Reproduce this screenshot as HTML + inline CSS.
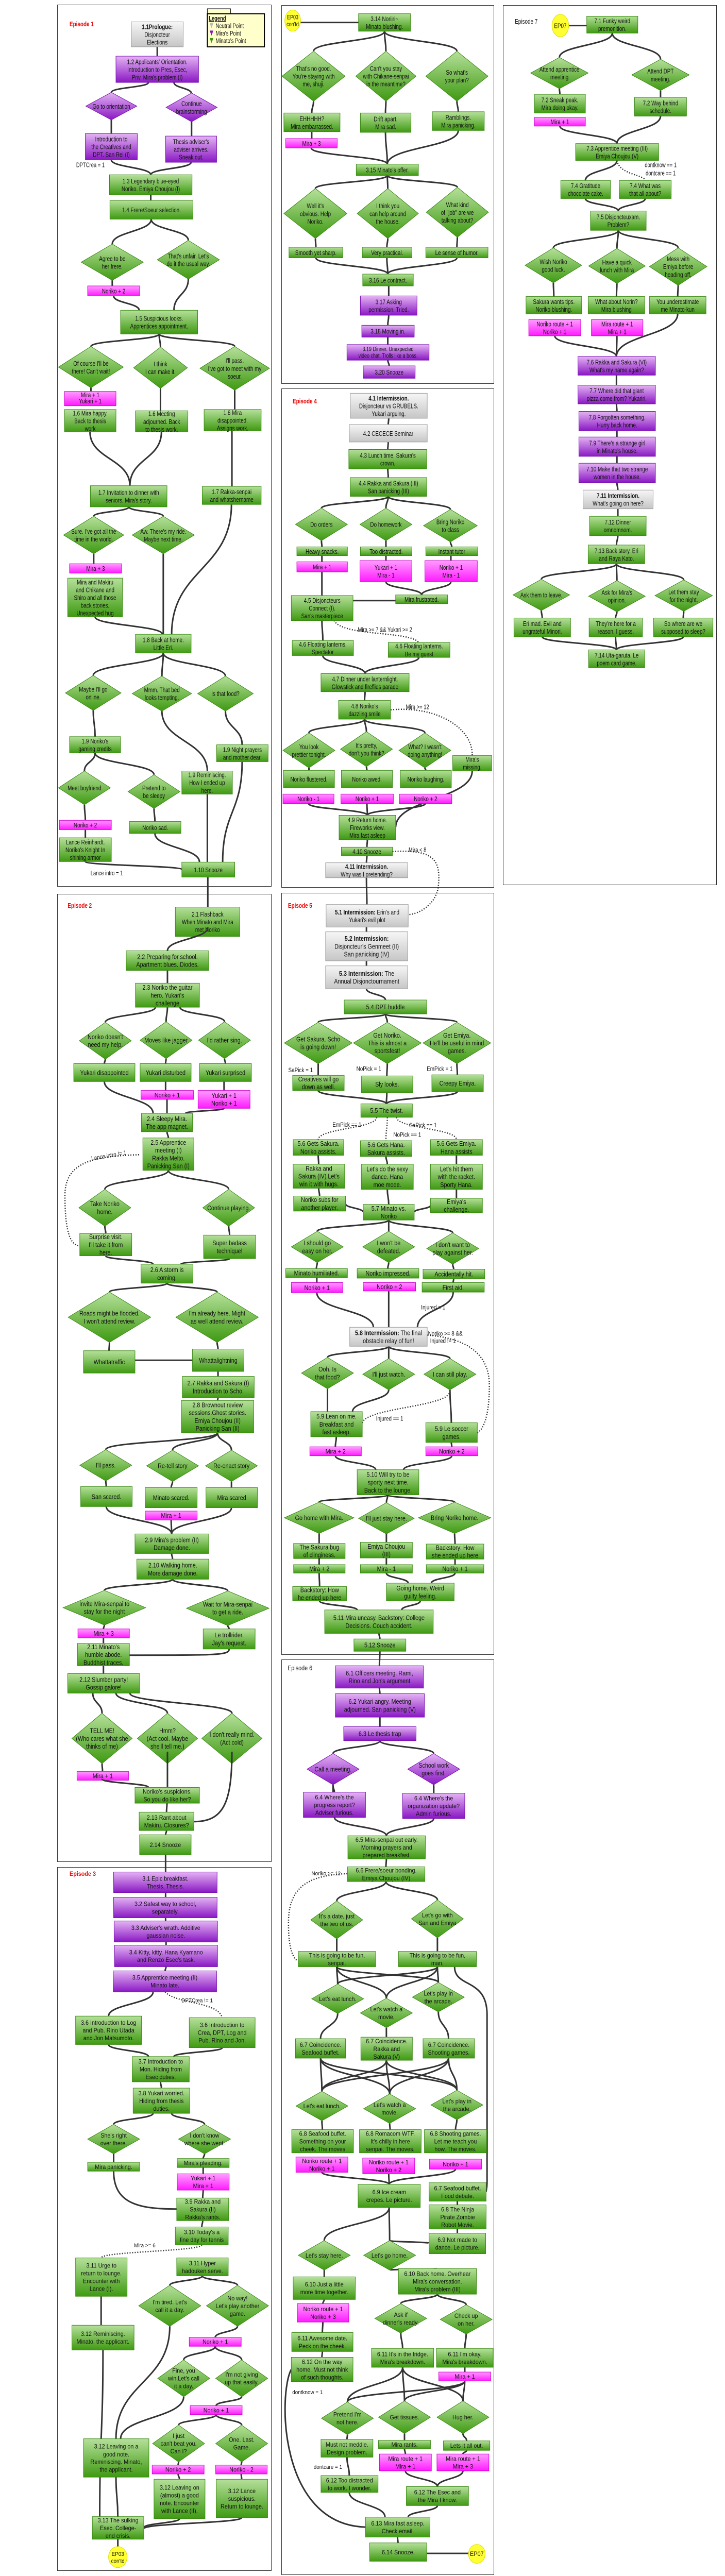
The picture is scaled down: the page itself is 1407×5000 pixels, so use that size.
<!DOCTYPE html>
<html><head><meta charset="utf-8">
<style>
html,body{margin:0;padding:0;background:#fff;}
body{width:1407px;height:5000px;position:relative;overflow:hidden;}
.pn{position:absolute;border:1px solid #333;box-sizing:border-box;}
svg.l{position:absolute;left:0;width:1407px;}
svg text{font-family:"Liberation Sans",Arial,sans-serif;text-anchor:middle;fill:#111;}
#s1 text{font-size:11px;} #s2 text,#s3 text{font-size:12px;}
text.ep{fill:#e00;font-weight:bold;text-anchor:start;}
text.lb{text-anchor:start;font-size:10.5px !important;}
.g{fill:url(#gG);stroke:#3a8a12;}
.p{fill:url(#gP);stroke:#7a10b0;}
.n{fill:url(#gN);stroke:#999;}
.k{fill:url(#gK);stroke:#d000d0;}
rect,polygon,circle{vector-effect:non-scaling-stroke;stroke-width:1;}
.cn path{fill:none;stroke:#333;stroke-width:3;vector-effect:non-scaling-stroke;}
.cn path.d{stroke-dasharray:2 3;stroke-width:2.5;}
.y{fill:#ffff33;stroke:#dd0;}
</style></head><body>
<svg width="0" height="0" style="position:absolute">
<defs>
<linearGradient id="gG" x1="0" y1="0" x2="0" y2="1"><stop offset="0" stop-color="#b5e09a"/><stop offset="1" stop-color="#3f9a12"/></linearGradient>
<linearGradient id="gP" x1="0" y1="0" x2="0" y2="1"><stop offset="0" stop-color="#e3b3f3"/><stop offset="1" stop-color="#8a18c4"/></linearGradient>
<linearGradient id="gN" x1="0" y1="0" x2="0" y2="1"><stop offset="0" stop-color="#f6f6f6"/><stop offset="1" stop-color="#c6c6c6"/></linearGradient>
<linearGradient id="gK" x1="0" y1="0" x2="0" y2="1"><stop offset="0" stop-color="#ff9cff"/><stop offset="1" stop-color="#ff1aff"/></linearGradient>
<polygon id="dia" points="0,-1 1,0 0,1 -1,0" vector-effect="non-scaling-stroke"/>
</defs></svg>

<div class="pn" style="left:111px;top:9px;width:416px;height:1712px"></div>
<div class="pn" style="left:546px;top:10px;width:413px;height:735px"></div>
<div class="pn" style="left:976px;top:10px;width:415px;height:1708px"></div>
<div class="pn" style="left:546px;top:754px;width:413px;height:969px"></div>
<div class="pn" style="left:111px;top:1735px;width:416px;height:1879px"></div>
<div class="pn" style="left:546px;top:1733px;width:413px;height:1479px"></div>
<div class="pn" style="left:111px;top:3624px;width:416px;height:1366px"></div>
<div class="pn" style="left:546px;top:3221px;width:413px;height:1777px"></div>

<!-- ============ SVG 1 ============ -->
<svg id="s1" class="l" style="top:0;height:1900px" viewBox="0 0 1563 1568" preserveAspectRatio="none">
<g class="cn" id="c1"></g>
<text class="ep" x="150" y="42">Episode 1</text>
<rect x="447" y="14" width="50" height="8" fill="#ffffcc" stroke="#000"/>
<rect x="447" y="22" width="123" height="53" fill="#ffffcc" stroke="#000" style="stroke-width:2"/>
<text class="lb" x="450" y="33" text-decoration="underline" font-weight="bold">Legend</text>
<polygon points="452,37 460,37 456,45" fill="#bbb"/><text class="lb" x="465" y="45">Neutral Point</text>
<polygon points="452,49 460,49 456,57" fill="#8a18c4"/><text class="lb" x="465" y="57">Mira's Point</text>
<polygon points="452,61 460,61 456,69" fill="#3f9a12"/><text class="lb" x="465" y="69">Minato's Point</text>

<rect class="n" x="283" y="35" width="112" height="40"/><text x="339" y="46.6"><tspan font-weight="bold">1.1Prologue:</tspan><tspan x="339" dy="12.4">Disjoncteur</tspan><tspan x="339" dy="12.4">Elections</tspan></text>
<rect class="p" x="250" y="90" width="178" height="42"/><text x="339" y="102.6">1.2 Applicants' Orientation.<tspan x="339" dy="12.4">Introduction to Pres, Esec,</tspan><tspan x="339" dy="12.4">Priv. Mira's problem (I)</tspan></text>
<use href="#dia" class="p" transform="translate(240,170) scale(55,22)"/><text x="240" y="174">Go to orientation</text>
<use href="#dia" class="p" transform="translate(413,172) scale(55,23)"/><text x="413" y="169.8">Continue<tspan x="413" dy="12.4">brainstorming</tspan></text>
<rect class="p" x="184" y="214" width="112" height="42"/><text x="240" y="226.6">Introduction to<tspan x="240" dy="12.4">the Creatives and</tspan><tspan x="240" dy="12.4">DPT. San Rei (I)</tspan></text>
<rect class="p" x="357" y="218" width="110" height="42"/><text x="412" y="230.6">Thesis adviser's<tspan x="412" dy="12.4">adviser arrives.</tspan><tspan x="412" dy="12.4">Sneak out.</tspan></text>
<text x="195" y="268" style="font-size:10.5px">DPTCrea = 1</text>
<rect class="g" x="236" y="280" width="178" height="32"/><text x="325" y="293.8">1.3 Legendary blue-eyed<tspan x="325" dy="12.4">Noriko. Emiya Choujou (I)</tspan></text>
<rect class="g" x="237" y="321" width="179" height="30"/><text x="326.5" y="340">1.4 Frere/Soeur selection.</text>
<use href="#dia" class="g" transform="translate(242,420) scale(67,29)"/><text x="242" y="417.8">Agree to be<tspan x="242" dy="12.4">her frere.</tspan></text>
<use href="#dia" class="g" transform="translate(406,416) scale(67,31)"/><text x="406" y="413.8">That's unfair. Let's<tspan x="406" dy="12.4">do it the usual way.</tspan></text>
<rect class="k" x="189" y="458" width="112" height="16"/><text x="245" y="470">Noriko + 2</text>
<rect class="g" x="260" y="497" width="166" height="38"/><text x="343" y="513.8">1.5 Suspicious looks.<tspan x="343" dy="12.4">Apprentices appointment.</tspan></text>
<use href="#dia" class="g" transform="translate(196,588) scale(70,33)"/><text x="196" y="585.8">Of course I'll be<tspan x="196" dy="12.4">there! Can't wait!</tspan></text>
<use href="#dia" class="g" transform="translate(346,589) scale(58,33)"/><text x="346" y="586.8">I think<tspan x="346" dy="12.4">I can make it.</tspan></text>
<use href="#dia" class="g" transform="translate(506,590) scale(75,35)"/><text x="506" y="581.6">I'll pass.<tspan x="506" dy="12.4">I've got to meet with my</tspan><tspan x="506" dy="12.4">soeur.</tspan></text>
<rect class="k" x="139" y="627" width="111" height="23"/><text x="194.5" y="636.3">Mira + 1<tspan x="194.5" dy="10">Yukari + 1</tspan></text>
<rect class="g" x="139" y="656" width="111" height="36"/><text x="194.5" y="665.6">1.6 Mira happy.<tspan x="194.5" dy="12.4">Back to thesis</tspan><tspan x="194.5" dy="12.4">work</tspan></text>
<rect class="g" x="292" y="658" width="113" height="34"/><text x="348.5" y="666.6">1.6 Meeting<tspan x="348.5" dy="12.4">adjourned. Back</tspan><tspan x="348.5" dy="12.4">to thesis work.</tspan></text>
<rect class="g" x="440" y="656" width="123" height="34"/><text x="501.5" y="664.6">1.6 Mira<tspan x="501.5" dy="12.4">disappointed.</tspan><tspan x="501.5" dy="12.4">Assigns work.</tspan></text>
<rect class="g" x="195" y="778" width="165" height="34"/><text x="277.5" y="792.8">1.7 Invitation to dinner with<tspan x="277.5" dy="12.4">seniors. Mira's story.</tspan></text>
<rect class="g" x="436" y="779" width="127" height="29"/><text x="499.5" y="791.3">1.7 Rakka-senpai<tspan x="499.5" dy="12.4">and whatshername</tspan></text>
<use href="#dia" class="g" transform="translate(202,857) scale(65,30)"/><text x="202" y="854.8">Sure. I've got all the<tspan x="202" dy="12.4">time in the world.</tspan></text>
<use href="#dia" class="g" transform="translate(352,857) scale(67,30)"/><text x="352" y="854.8">Aw. There's my ride.<tspan x="352" dy="12.4">Maybe next time.</tspan></text>
<rect class="k" x="150" y="903" width="112" height="15"/><text x="206" y="914.5">Mira + 3</text>
<rect class="g" x="146" y="926" width="118" height="62"/><text x="205" y="936.2">Mira and Makiru<tspan x="205" dy="12.4">and Chikane and</tspan><tspan x="205" dy="12.4">Shiro and all those</tspan><tspan x="205" dy="12.4">back stories.</tspan><tspan x="205" dy="12.4">Unexpected hug</tspan></text>
<rect class="g" x="292" y="1016" width="120" height="30"/><text x="352" y="1028.8">1.8 Back at home.<tspan x="352" dy="12.4">Little Eri.</tspan></text>
<use href="#dia" class="g" transform="translate(201,1110) scale(60,28)"/><text x="201" y="1107.8">Maybe I'll go<tspan x="201" dy="12.4">online.</tspan></text>
<use href="#dia" class="g" transform="translate(349,1111) scale(64,28)"/><text x="349" y="1108.8">Mmm. That bed<tspan x="349" dy="12.4">looks tempting.</tspan></text>
<use href="#dia" class="g" transform="translate(486,1111) scale(60,28)"/><text x="486" y="1115">Is that food?</text>
<rect class="g" x="150" y="1180" width="110" height="26"/><text x="205" y="1190.8">1.9 Noriko's<tspan x="205" dy="12.4">gaming credits</tspan></text>
<rect class="g" x="467" y="1193" width="111" height="27"/><text x="522.5" y="1204.3">1.9 Night prayers<tspan x="522.5" dy="12.4">and mother dear.</tspan></text>
<rect class="g" x="392" y="1235" width="109" height="37"/><text x="446.5" y="1245.1">1.9 Reminiscing.<tspan x="446.5" dy="12.4">How I ended up</tspan><tspan x="446.5" dy="12.4">here.</tspan></text>
<use href="#dia" class="g" transform="translate(182,1262) scale(56,27)"/><text x="182" y="1266">Meet boyfriend</text>
<use href="#dia" class="g" transform="translate(332,1268) scale(56,27)"/><text x="332" y="1265.8">Pretend to<tspan x="332" dy="12.4">be sleepy</tspan></text>
<rect class="k" x="128" y="1314" width="112" height="15"/><text x="184" y="1325.5">Noriko + 2</text>
<rect class="g" x="279" y="1316" width="111" height="19"/><text x="334.5" y="1329.5">Noriko sad.</text>
<rect class="g" x="128" y="1342" width="112" height="38"/><text x="184" y="1352.6">Lance Reinhardt.<tspan x="184" dy="12.4">Noriko's Knight In</tspan><tspan x="184" dy="12.4">shining armor</tspan></text>
<rect class="g" x="392" y="1381" width="114" height="24"/><text x="449" y="1397">1.10 Snooze</text>
<text x="230" y="1402" style="font-size:10.5px">Lance intro = 1</text>

<!-- EP03 cont'd -->
<circle class="y" cx="631" cy="33" r="17"/><text x="631" y="31" style="font-size:10px">EP03<tspan x="631" dy="11">con'td</tspan></text>
<rect class="g" x="773" y="22" width="112" height="28"/><text x="829" y="33.8">3.14 Noriiri~<tspan x="829" dy="12.4">Minato blushing.</tspan></text>
<use href="#dia" class="g" transform="translate(676,122) scale(68,40)"/><text x="676" y="113.6">That's no good.<tspan x="676" dy="12.4">You're staying with</tspan><tspan x="676" dy="12.4">me, shuji.</tspan></text>
<use href="#dia" class="g" transform="translate(832,122) scale(65,40)"/><text x="832" y="113.6">Can't you stay<tspan x="832" dy="12.4">with Chikane-senpai</tspan><tspan x="832" dy="12.4">in the meantime?</tspan></text>
<use href="#dia" class="g" transform="translate(985,122) scale(67,40)"/><text x="985" y="119.8">So what's<tspan x="985" dy="12.4">your plan?</tspan></text>
<rect class="g" x="612" y="181" width="121" height="30"/><text x="672.5" y="193.8">EHHHHH?<tspan x="672.5" dy="12.4">Mira embarrassed.</tspan></text>
<rect class="g" x="777" y="181" width="109" height="31"/><text x="831.5" y="194.3">Drift apart.<tspan x="831.5" dy="12.4">Mira sad.</tspan></text>
<rect class="g" x="932" y="179" width="112" height="30"/><text x="988" y="191.8">Ramblings.<tspan x="988" dy="12.4">Mira panicking.</tspan></text>
<rect class="k" x="616" y="222" width="111" height="15"/><text x="671.5" y="233.5">Mira + 3</text>
<rect class="g" x="768" y="263" width="134" height="18"/><text x="835" y="276">3.15 Minato's offer.</text>
<use href="#dia" class="g" transform="translate(680,342) scale(68,40)"/><text x="680" y="333.6">Well it's<tspan x="680" dy="12.4">obvious. Help</tspan><tspan x="680" dy="12.4">Noriko.</tspan></text>
<use href="#dia" class="g" transform="translate(836,342) scale(66,40)"/><text x="836" y="333.6">I think you<tspan x="836" dy="12.4">can help around</tspan><tspan x="836" dy="12.4">the house.</tspan></text>
<use href="#dia" class="g" transform="translate(986,340) scale(67,40)"/><text x="986" y="331.6">What kind<tspan x="986" dy="12.4">of "job" are we</tspan><tspan x="986" dy="12.4">talking about?</tspan></text>
<rect class="g" x="623" y="396" width="116" height="17"/><text x="681" y="408.5">Smooth yet sharp.</text>
<rect class="g" x="781" y="396" width="107" height="17"/><text x="834.5" y="408.5">Very practical.</text>
<rect class="g" x="918" y="396" width="134" height="17"/><text x="985" y="408.5">Le sense of humor.</text>
<rect class="g" x="782" y="439" width="109" height="19"/><text x="836.5" y="452.5">3.16 Le contract.</text>
<rect class="p" x="777" y="474" width="122" height="31"/><text x="838" y="487.3">3.17 Asking<tspan x="838" dy="12.4">permission. Tried.</tspan></text>
<rect class="p" x="780" y="521" width="113" height="19"/><text x="836.5" y="534.5">3.18 Moving in.</text>
<rect class="p" x="748" y="552" width="177" height="25"/><text x="836.5" y="562.3" style="font-size:10px">3.19 Dinner. Unexpected<tspan x="836.5" dy="11">video chat. Trolls like a boss.</tspan></text>
<rect class="p" x="783" y="586" width="112" height="20"/><text x="839" y="600">3.20 Snooze</text>

<!-- Ep4 -->
<text class="ep" x="631" y="646">Episode 4</text>
<rect class="n" x="755" y="630" width="166" height="40"/><text x="838" y="641.6"><tspan font-weight="bold">4.1 Intermission.</tspan><tspan x="838" dy="12.4">Disjoncteur vs GRUBELS.</tspan><tspan x="838" dy="12.4">Yukari arguing.</tspan></text>
<rect class="n" x="753" y="680" width="168" height="28"/><text x="837" y="698">4.2 CECECE Seminar</text>
<rect class="g" x="752" y="720" width="168" height="31"/><text x="836" y="733.3">4.3 Lunch time. Sakura's<tspan x="836" dy="12.4">crown.</tspan></text>
<rect class="g" x="755" y="765" width="165" height="30"/><text x="837.5" y="777.8">4.4 Rakka and Sakura (III)<tspan x="837.5" dy="12.4">San panicking (III)</tspan></text>
<use href="#dia" class="g" transform="translate(693,840) scale(56,26)"/><text x="693" y="844">Do orders</text>
<use href="#dia" class="g" transform="translate(832,840) scale(56,26)"/><text x="832" y="844">Do homework</text>
<use href="#dia" class="g" transform="translate(971,842) scale(58,26)"/><text x="971" y="839.8">Bring Noriko<tspan x="971" dy="12.4">to class</tspan></text>
<rect class="g" x="640" y="876" width="109" height="14"/><text x="694.5" y="887">Heavy snacks.</text>
<rect class="g" x="777" y="876" width="111" height="14"/><text x="832.5" y="887">Too distracted.</text>
<rect class="g" x="918" y="876" width="112" height="14"/><text x="974" y="887">Instant tutor</text>
<rect class="k" x="640" y="900" width="109" height="16"/><text x="694.5" y="912">Mira + 1</text>
<rect class="k" x="776" y="898" width="112" height="34"/><text x="832" y="912.8">Yukari + 1<tspan x="832" dy="12.4">Mira - 1</tspan></text>
<rect class="k" x="916" y="898" width="113" height="34"/><text x="972.5" y="912.8">Noriko + 1<tspan x="972.5" dy="12.4">Mira - 1</tspan></text>
<rect class="g" x="628" y="954" width="133" height="40"/><text x="694.5" y="965.6">4.5 Disjoncteurs<tspan x="694.5" dy="12.4">Connect (I).</tspan><tspan x="694.5" dy="12.4">San's masterpiece</tspan></text>
<rect class="g" x="853" y="953" width="112" height="14"/><text x="909" y="964">Mira frustrated.</text>
<text x="830" y="1012" style="font-size:10.5px">Mira &gt;= 7 &amp;&amp; Yukari &gt;= 2</text>
<rect class="g" x="630" y="1026" width="132" height="24"/><text x="696" y="1035.8">4.6 Floating lanterns.<tspan x="696" dy="12.4">Spectator</tspan></text>
<rect class="g" x="837" y="1029" width="133" height="24"/><text x="903.5" y="1038.8">4.6 Floating lanterns.<tspan x="903.5" dy="12.4">Be my guest</tspan></text>
<rect class="g" x="692" y="1079" width="190" height="29"/><text x="787" y="1091.3">4.7 Dinner under lanternlight.<tspan x="787" dy="12.4">Glowstick and fireflies parade</tspan></text>
<rect class="g" x="730" y="1122" width="112" height="30"/><text x="786" y="1134.8">4.8 Noriko's<tspan x="786" dy="12.4">dazzling smile</tspan></text>
<text x="900" y="1136" style="font-size:10.5px">Mira &gt;= 12</text>
<use href="#dia" class="g" transform="translate(666,1202) scale(56,28)"/><text x="666" y="1199.8">You look<tspan x="666" dy="12.4">prettier tonight.</tspan></text>
<use href="#dia" class="g" transform="translate(790,1200) scale(56,28)"/><text x="790" y="1197.8">It's pretty,<tspan x="790" dy="12.4">don't you think?</tspan></text>
<use href="#dia" class="g" transform="translate(916,1202) scale(56,28)"/><text x="916" y="1199.8">What? I wasn't<tspan x="916" dy="12.4">doing anything!</tspan></text>
<rect class="g" x="976" y="1210" width="84" height="25"/><text x="1018" y="1220.3">Mira's<tspan x="1018" dy="12.4">missing.</tspan></text>
<rect class="g" x="611" y="1234" width="110" height="28"/><text x="666" y="1252">Noriko flustered.</text>
<rect class="g" x="736" y="1234" width="110" height="28"/><text x="791" y="1252">Noriko awed.</text>
<rect class="g" x="863" y="1234" width="110" height="28"/><text x="918" y="1252">Noriko laughing.</text>
<rect class="k" x="610" y="1272" width="110" height="15"/><text x="665" y="1283.5">Noriko - 1</text>
<rect class="k" x="735" y="1272" width="113" height="15"/><text x="791.5" y="1283.5">Noriko + 1</text>
<rect class="k" x="861" y="1272" width="113" height="15"/><text x="917.5" y="1283.5">Noriko + 2</text>
<rect class="g" x="731" y="1306" width="122" height="39"/><text x="792" y="1317.1">4.9 Return home.<tspan x="792" dy="12.4">Fireworks view.</tspan><tspan x="792" dy="12.4">Mira fast asleep</tspan></text>
<rect class="g" x="736" y="1357" width="110" height="14"/><text x="791" y="1368">4.10 Snooze</text>
<text x="900" y="1365" style="font-size:10.5px">Mira &lt; 8</text>
<rect class="n" x="702" y="1382" width="177" height="24"/><text x="790.5" y="1391.8"><tspan font-weight="bold">4.11 Intermission.</tspan><tspan x="790.5" dy="12.4">Why was I pretending?</tspan></text>

<!-- Ep7 -->
<text x="1110" y="38" style="text-anchor:start">Episode 7</text>
<circle class="y" cx="1208" cy="41" r="18"/><text x="1208" y="45">EP07</text>
<rect class="g" x="1265" y="26" width="110" height="27"/><text x="1320" y="37.3">7.1 Funky weird<tspan x="1320" dy="12.4">premonition.</tspan></text>
<use href="#dia" class="g" transform="translate(1206,117) scale(62,25)"/><text x="1206" y="114.8">Attend apprentice<tspan x="1206" dy="12.4">meeting</tspan></text>
<use href="#dia" class="g" transform="translate(1424,120) scale(62,25)"/><text x="1424" y="117.8">Attend DPT<tspan x="1424" dy="12.4">meeting.</tspan></text>
<rect class="g" x="1152" y="151" width="110" height="30"/><text x="1207" y="163.8">7.2 Sneak peak.<tspan x="1207" dy="12.4">Mira doing okay.</tspan></text>
<rect class="g" x="1368" y="156" width="112" height="30"/><text x="1424" y="168.8">7.2 Way behind<tspan x="1424" dy="12.4">schedule.</tspan></text>
<rect class="k" x="1152" y="188" width="110" height="14"/><text x="1207" y="199">Mira + 1</text>
<rect class="g" x="1241" y="230" width="179" height="27"/><text x="1330.5" y="241.3">7.3 Apprentice meeting (III)<tspan x="1330.5" dy="12.4">Emiya Choujou (V)</tspan></text>
<text class="lb" x="1390" y="268">dontknow == 1</text><text class="lb" x="1392" y="281">dontcare == 1</text>
<rect class="g" x="1209" y="289" width="107" height="29"/><text x="1262.5" y="301.3">7.4 Gratitude<tspan x="1262.5" dy="12.4">chocolate cake.</tspan></text>
<rect class="g" x="1335" y="289" width="112" height="29"/><text x="1391" y="301.3">7.4 What was<tspan x="1391" dy="12.4">that all about?</tspan></text>
<rect class="g" x="1273" y="338" width="120" height="31"/><text x="1333" y="351.3">7.5 Disjoncteuxam.<tspan x="1333" dy="12.4">Problem?</tspan></text>
<use href="#dia" class="g" transform="translate(1193,425) scale(61,28)"/><text x="1193" y="422.8">Wish Noriko<tspan x="1193" dy="12.4">good luck.</tspan></text>
<use href="#dia" class="g" transform="translate(1330,426) scale(61,28)"/><text x="1330" y="423.8">Have a quick<tspan x="1330" dy="12.4">lunch with Mira</tspan></text>
<use href="#dia" class="g" transform="translate(1462,427) scale(62,30)"/><text x="1462" y="418.6">Mess with<tspan x="1462" dy="12.4">Emiya before</tspan><tspan x="1462" dy="12.4">heading off.</tspan></text>
<rect class="g" x="1134" y="475" width="120" height="28"/><text x="1194" y="486.8">Sakura wants tips.<tspan x="1194" dy="12.4">Noriko blushing.</tspan></text>
<rect class="g" x="1268" y="475" width="122" height="28"/><text x="1329" y="486.8">What about Norin?<tspan x="1329" dy="12.4">Mira blushing</tspan></text>
<rect class="g" x="1400" y="475" width="122" height="28"/><text x="1461" y="486.8">You underestimate<tspan x="1461" dy="12.4">me Minato-kun</tspan></text>
<rect class="k" x="1140" y="512" width="112" height="26"/><text x="1196" y="522.8">Noriko route + 1<tspan x="1196" dy="12.4">Noriko + 1</tspan></text>
<rect class="k" x="1275" y="512" width="111" height="26"/><text x="1330.5" y="522.8">Mira route + 1<tspan x="1330.5" dy="12.4">Mira + 1</tspan></text>
<rect class="p" x="1246" y="571" width="167" height="30"/><text x="1329.5" y="583.8">7.6 Rakka and Sakura (VI)<tspan x="1329.5" dy="12.4">What's my name again?</tspan></text>
<rect class="p" x="1246" y="617" width="167" height="30"/><text x="1329.5" y="629.8">7.7 Where did that giant<tspan x="1329.5" dy="12.4">pizza come from? Yukariri.</tspan></text>
<rect class="p" x="1248" y="659" width="165" height="31"/><text x="1330.5" y="672.3">7.8 Forgotten something.<tspan x="1330.5" dy="12.4">Hurry back home.</tspan></text>
<rect class="p" x="1248" y="700" width="165" height="31"/><text x="1330.5" y="713.3">7.9 There's a strange girl<tspan x="1330.5" dy="12.4">in Minato's house.</tspan></text>
<rect class="p" x="1248" y="742" width="165" height="31"/><text x="1330.5" y="755.3">7.10 Make that two strange<tspan x="1330.5" dy="12.4">women in the house.</tspan></text>
<rect class="n" x="1257" y="785" width="151" height="30"/><text x="1332.5" y="797.8"><tspan font-weight="bold">7.11 Intermission.</tspan><tspan x="1332.5" dy="12.4">What's going on here?</tspan></text>
<rect class="g" x="1271" y="827" width="122" height="31"/><text x="1332" y="840.3">7.12 Dinner<tspan x="1332" dy="12.4">omnomnom.</tspan></text>
<rect class="g" x="1268" y="873" width="122" height="30"/><text x="1329" y="885.8">7.13 Back story. Eri<tspan x="1329" dy="12.4">and Raya Kato.</tspan></text>
<use href="#dia" class="g" transform="translate(1167,953) scale(61,25)"/><text x="1167" y="957">Ask them to leave.</text>
<use href="#dia" class="g" transform="translate(1330,955) scale(61,25)"/><text x="1330" y="952.8">Ask for Mira's<tspan x="1330" dy="12.4">opinion.</tspan></text>
<use href="#dia" class="g" transform="translate(1474,954) scale(62,25)"/><text x="1474" y="951.8">Let them stay<tspan x="1474" dy="12.4">for the night.</tspan></text>
<rect class="g" x="1108" y="990" width="122" height="30"/><text x="1169" y="1002.8">Eri mad. Evil and<tspan x="1169" dy="12.4">ungrateful Minori.</tspan></text>
<rect class="g" x="1270" y="990" width="115" height="30"/><text x="1327.5" y="1002.8">They're here for a<tspan x="1327.5" dy="12.4">reason, I guess.</tspan></text>
<rect class="g" x="1409" y="990" width="128" height="30"/><text x="1473" y="1002.8">So where are we<tspan x="1473" dy="12.4">supposed to sleep?</tspan></text>
<rect class="g" x="1269" y="1041" width="121" height="29"/><text x="1329.5" y="1053.3">7.14 Uta-garuta. Le<tspan x="1329.5" dy="12.4">poem card game.</tspan></text>

<text class="ep" x="146" y="1454">Episode 2</text>
<rect class="g" x="378" y="1453" width="139" height="47"/><text x="447.5" y="1468.1">2.1 Flashback<tspan x="447.5" dy="12.4">When Minato and Mira</tspan><tspan x="447.5" dy="12.4">met Noriko</tspan></text>
<text class="ep" x="621" y="1454">Episode 5</text>
<rect class="n" x="703" y="1449" width="177" height="36"/><text x="791.5" y="1464.8"><tspan font-weight="bold">5.1 Intermission:</tspan> Erin's and<tspan x="791.5" dy="12.4">Yukari's evil plot</tspan></text>
</svg>

<!-- ============ SVG 2 ============ -->
<svg id="s2" class="l" style="top:1800px;height:1700px" viewBox="0 0 1563 1568" preserveAspectRatio="none">
<g class="cn" id="c2"></g>
<rect class="g" x="272" y="42" width="178" height="35"/><text x="361" y="56.7">2.2 Preparing for school.<tspan x="361" dy="14">Apartment blues. Diodes.</tspan></text>
<rect class="g" x="292" y="100" width="138" height="43"/><text x="361" y="111.7">2.3 Noriko the guitar<tspan x="361" dy="14">hero. Yukari's</tspan><tspan x="361" dy="14">challenge</tspan></text>
<use href="#dia" class="g" transform="translate(227,203) scale(56,33)"/><text x="227" y="200.2">Noriko doesn't<tspan x="227" dy="14">need my help.</tspan></text>
<use href="#dia" class="g" transform="translate(358,202) scale(56,33)"/><text x="358" y="206.2">Moves like jagger</text>
<use href="#dia" class="g" transform="translate(484,202) scale(56,33)"/><text x="484" y="206.2">I'd rather sing.</text>
<rect class="g" x="159" y="244" width="132" height="32"/><text x="225" y="264.2">Yukari disappointed</text>
<rect class="g" x="302" y="244" width="110" height="32"/><text x="357" y="264.2">Yukari disturbed</text>
<rect class="g" x="430" y="244" width="112" height="32"/><text x="486" y="264.2">Yukari surprised</text>
<rect class="k" x="304" y="292" width="113" height="16"/><text x="360.5" y="304.2">Noriko + 1</text>
<rect class="k" x="427" y="292" width="112" height="32"/><text x="483" y="305.2">Yukari + 1<tspan x="483" dy="14">Noriko + 1</tspan></text>
<rect class="g" x="305" y="333" width="110" height="33"/><text x="360" y="346.7">2.4 Sleepy Mira.<tspan x="360" dy="14">The app magnet.</tspan></text>
<rect class="g" x="308" y="377" width="110" height="58"/><text x="363" y="389.2">2.5 Apprentice<tspan x="363" dy="14">meeting (I)</tspan><tspan x="363" dy="14">Rakka Melto.</tspan><tspan x="363" dy="14">Panicking San (I)</tspan></text>
<text x="235" y="412" transform="rotate(-8 235 412)" style="font-size:11px">Lance intro != 1</text>
<use href="#dia" class="g" transform="translate(226,502) scale(56,33)"/><text x="226" y="499.2">Take Noriko<tspan x="226" dy="14">home.</tspan></text>
<use href="#dia" class="g" transform="translate(493,502) scale(56,33)"/><text x="493" y="506.2">Continue playing.</text>
<rect class="g" x="172" y="548" width="112" height="40"/><text x="228" y="558.2">Surprise visit.<tspan x="228" dy="14">I'll take it from</tspan><tspan x="228" dy="14">here.</tspan></text>
<rect class="g" x="439" y="551" width="112" height="42"/><text x="495" y="569.2">Super badass<tspan x="495" dy="14">technique!</tspan></text>
<rect class="g" x="304" y="603" width="112" height="34"/><text x="360" y="617.2">2.6 A storm is<tspan x="360" dy="14">coming.</tspan></text>
<use href="#dia" class="g" transform="translate(236,698) scale(89,45)"/><text x="236" y="695.2">Roads might be flooded.<tspan x="236" dy="14">I won't attend review.</tspan></text>
<use href="#dia" class="g" transform="translate(468,698) scale(89,45)"/><text x="468" y="695.2">I'm already here. Might<tspan x="468" dy="14">as well attend review.</tspan></text>
<rect class="g" x="180" y="758" width="111" height="40"/><text x="235.5" y="782.2">Whattatraffic</text>
<rect class="g" x="415" y="755" width="111" height="40"/><text x="470.5" y="779.2">Whattalightning</text>
<rect class="g" x="393" y="804" width="155" height="38"/><text x="470.5" y="820.2">2.7 Rakka and Sakura (I)<tspan x="470.5" dy="14">Introduction to Scho.</tspan></text>
<rect class="g" x="391" y="847" width="156" height="58"/><text x="469" y="859.2">2.8 Brownout review<tspan x="469" dy="14">sessions.Ghost stories.</tspan><tspan x="469" dy="14">Emiya Choujou (II)</tspan><tspan x="469" dy="14">Panicking San (II)</tspan></text>
<use href="#dia" class="g" transform="translate(228,963) scale(56,28)"/><text x="228" y="967.2">I'll pass.</text>
<use href="#dia" class="g" transform="translate(372,964) scale(56,28)"/><text x="372" y="968.2">Re-tell story</text>
<use href="#dia" class="g" transform="translate(499,964) scale(56,28)"/><text x="499" y="968.2">Re-enact story</text>
<rect class="g" x="174" y="1001" width="111" height="36"/><text x="229.5" y="1023.2">San scared.</text>
<rect class="g" x="313" y="1003" width="112" height="36"/><text x="369" y="1025.2">Minato scared.</text>
<rect class="g" x="444" y="1003" width="111" height="36"/><text x="499.5" y="1025.2">Mira scared</text>
<rect class="k" x="313" y="1045" width="112" height="16"/><text x="369" y="1057.2">Mira + 1</text>
<rect class="g" x="291" y="1086" width="159" height="35"/><text x="370.5" y="1100.7">2.9 Mira's problem (II)<tspan x="370.5" dy="14">Damage done.</tspan></text>
<rect class="g" x="295" y="1131" width="155" height="36"/><text x="372.5" y="1146.2">2.10 Walking home.<tspan x="372.5" dy="14">More damage done.</tspan></text>
<use href="#dia" class="g" transform="translate(225,1218) scale(89,31)"/><text x="225" y="1215.2">Invite Mira-senpai to<tspan x="225" dy="14">stay for the night</tspan></text>
<use href="#dia" class="g" transform="translate(491,1219) scale(89,31)"/><text x="491" y="1216.2">Wait for Mira-senpai<tspan x="491" dy="14">to get a ride.</tspan></text>
<rect class="k" x="168" y="1256" width="111" height="16"/><text x="223.5" y="1268.2">Mira + 3</text>
<rect class="g" x="438" y="1256" width="112" height="36"/><text x="494" y="1271.2">Le trollrider.<tspan x="494" dy="14">Jay's request.</tspan></text>
<rect class="g" x="167" y="1282" width="112" height="40"/><text x="223" y="1292.2">2.11 Minato's<tspan x="223" dy="14">humble abode.</tspan><tspan x="223" dy="14">Buddhist traces.</tspan></text>
<rect class="g" x="146" y="1336" width="155" height="35"/><text x="223.5" y="1350.7">2.12 Slumber party!<tspan x="223.5" dy="14">Gossip galore!</tspan></text>
<use href="#dia" class="g" transform="translate(220,1452) scale(65,45)"/><text x="220" y="1442.2">TELL ME!<tspan x="220" dy="14">(Who cares what she</tspan><tspan x="220" dy="14">thinks of me)</tspan></text>
<use href="#dia" class="g" transform="translate(361,1452) scale(65,45)"/><text x="361" y="1442.2">Hmm?<tspan x="361" dy="14">(Act cool. Maybe</tspan><tspan x="361" dy="14">she'll tell me.)</tspan></text>
<use href="#dia" class="g" transform="translate(500,1452) scale(65,45)"/><text x="500" y="1449.2">I don't really mind.<tspan x="500" dy="14">(Act cold)</tspan></text>
<rect class="k" x="166" y="1511" width="111" height="16"/><text x="221.5" y="1523.2">Mira + 1</text>

<!-- Ep5 -->
<rect class="n" x="702" y="8" width="177" height="52"/><text x="790.5" y="24.2"><tspan font-weight="bold">5.2 Intermission:</tspan><tspan x="790.5" dy="14">Disjoncteur's Genmeet (II)</tspan><tspan x="790.5" dy="14">San panicking (IV)</tspan></text>
<rect class="n" x="702" y="69" width="177" height="41"/><text x="790.5" y="86.7"><tspan font-weight="bold">5.3 Intermission:</tspan> The<tspan x="790.5" dy="14">Annual Disjonctournament</tspan></text>
<rect class="g" x="742" y="130" width="178" height="25"/><text x="831" y="146.7">5.4 DPT huddle</text>
<use href="#dia" class="g" transform="translate(686,207) scale(73,37)"/><text x="686" y="204.2">Get Sakura. Scho<tspan x="686" dy="14">is going down!</tspan></text>
<use href="#dia" class="g" transform="translate(835,207) scale(73,37)"/><text x="835" y="197.2">Get Noriko.<tspan x="835" dy="14">This is almost a</tspan><tspan x="835" dy="14">sportsfest!</tspan></text>
<use href="#dia" class="g" transform="translate(985,207) scale(73,37)"/><text x="985" y="197.2">Get Emiya.<tspan x="985" dy="14">He'll be useful in mind</tspan><tspan x="985" dy="14">games.</tspan></text>
<text x="648" y="259" style="font-size:11px">SaPick = 1</text><text x="795" y="257" style="font-size:11px">NoPick = 1</text><text x="948" y="257" style="font-size:11px">EmPick = 1</text>
<rect class="g" x="631" y="265" width="111" height="27"/><text x="686.5" y="275.7">Creatives will go<tspan x="686.5" dy="14">down as well.</tspan></text>
<rect class="g" x="779" y="266" width="111" height="30"/><text x="834.5" y="285.2">Sly looks.</text>
<rect class="g" x="931" y="264" width="111" height="30"/><text x="986.5" y="283.2">Creepy Emiya.</text>
<rect class="g" x="778" y="316" width="111" height="24"/><text x="833.5" y="332.2">5.5 The twist.</text>
<text x="748" y="357" style="font-size:11px">EmPick == 1</text><text x="878" y="375" style="font-size:11px">NoPick == 1</text><text x="912" y="358" style="font-size:11px">SaPick == 1</text>
<rect class="g" x="632" y="380" width="109" height="28"/><text x="686.5" y="391.2">5.6 Gets Sakura.<tspan x="686.5" dy="14">Noriko assists.</tspan></text>
<rect class="g" x="777" y="382" width="111" height="28"/><text x="832.5" y="393.2">5.6 Gets Hana.<tspan x="832.5" dy="14">Sakura assists.</tspan></text>
<rect class="g" x="928" y="380" width="112" height="28"/><text x="984" y="391.2">5.6 Gets Emiya.<tspan x="984" dy="14">Hana assists</tspan></text>
<rect class="g" x="632" y="424" width="111" height="43"/><text x="687.5" y="435.7">Rakka and<tspan x="687.5" dy="14">Sakura (IV) Let's</tspan><tspan x="687.5" dy="14">win it with hugs.</tspan></text>
<rect class="g" x="779" y="424" width="112" height="45"/><text x="835" y="436.7">Let's do the sexy<tspan x="835" dy="14">dance. Hana</tspan><tspan x="835" dy="14">moe mode.</tspan></text>
<rect class="g" x="928" y="424" width="112" height="45"/><text x="984" y="436.7">Let's hit them<tspan x="984" dy="14">with the racket.</tspan><tspan x="984" dy="14">Sporty Hana.</tspan></text>
<rect class="g" x="633" y="481" width="112" height="27"/><text x="689" y="491.7">Noriko subs for<tspan x="689" dy="14">another player.</tspan></text>
<rect class="g" x="783" y="496" width="110" height="28"/><text x="838" y="507.2">5.7 Minato vs.<tspan x="838" dy="14">Noriko</tspan></text>
<rect class="g" x="928" y="485" width="112" height="26"/><text x="984" y="495.2">Emiya's<tspan x="984" dy="14">challenge.</tspan></text>
<use href="#dia" class="g" transform="translate(684,572) scale(56,28)"/><text x="684" y="569.2">I should go<tspan x="684" dy="14">easy on her.</tspan></text>
<use href="#dia" class="g" transform="translate(838,572) scale(56,28)"/><text x="838" y="569.2">I won't be<tspan x="838" dy="14">defeated.</tspan></text>
<use href="#dia" class="g" transform="translate(976,575) scale(56,28)"/><text x="976" y="572.2">I don't want to<tspan x="976" dy="14">play against her.</tspan></text>
<rect class="g" x="616" y="611" width="133" height="16"/><text x="682.5" y="623.2">Minato humiliated.</text>
<rect class="g" x="770" y="611" width="133" height="17"/><text x="836.5" y="623.7">Noriko impressed.</text>
<rect class="g" x="912" y="612" width="133" height="17"/><text x="978.5" y="624.7">Accidentally hit.</text>
<rect class="k" x="628" y="636" width="111" height="18"/><text x="683.5" y="649.2">Noriko + 1</text>
<rect class="k" x="783" y="636" width="113" height="15"/><text x="839.5" y="647.7">Noriko + 2</text>
<rect class="g" x="910" y="636" width="134" height="17"/><text x="977" y="648.7">First aid.</text>
<text x="934" y="684" style="font-size:11px">Injured = 1</text>
<rect class="n" x="754" y="716" width="167" height="34"/><text x="837.5" y="730.2"><tspan font-weight="bold">5.8 Intermission:</tspan> The final<tspan x="837.5" dy="14">obstacle relay of fun!</tspan></text>
<text x="960" y="731" style="font-size:11px">Noriko &gt;= 8 &amp;&amp;<tspan x="955" dy="13">Injured != 1</tspan></text>
<use href="#dia" class="g" transform="translate(706,798) scale(56,28)"/><text x="706" y="795.2">Ooh. Is<tspan x="706" dy="14">that food?</tspan></text>
<use href="#dia" class="g" transform="translate(838,800) scale(56,28)"/><text x="838" y="804.2">I'll just watch.</text>
<use href="#dia" class="g" transform="translate(970,800) scale(56,28)"/><text x="970" y="804.2">I can still play.</text>
<rect class="g" x="670" y="867" width="111" height="45"/><text x="725.5" y="879.7">5.9 Lean on me.<tspan x="725.5" dy="14">Breakfast and</tspan><tspan x="725.5" dy="14">fast asleep.</tspan></text>
<rect class="g" x="918" y="887" width="111" height="35"/><text x="973.5" y="901.7">5.9 Le soccer<tspan x="973.5" dy="14">games.</tspan></text>
<text x="840" y="883" style="font-size:11px">Injured == 1</text>
<rect class="k" x="668" y="930" width="111" height="16"/><text x="723.5" y="942.2">Mira + 2</text>
<rect class="k" x="918" y="930" width="112" height="16"/><text x="974" y="942.2">Noriko + 2</text>
<rect class="g" x="770" y="971" width="133" height="45"/><text x="836.5" y="983.7">5.10 Will try to be<tspan x="836.5" dy="14">sporty next time.</tspan><tspan x="836.5" dy="14">Back to the lounge.</tspan></text>
<use href="#dia" class="g" transform="translate(688,1057) scale(75,28)"/><text x="688" y="1061.2">Go home with Mira.</text>
<use href="#dia" class="g" transform="translate(833,1058) scale(60,28)"/><text x="833" y="1062.2">I'll just stay here.</text>
<use href="#dia" class="g" transform="translate(980,1057) scale(78,28)"/><text x="980" y="1061.2">Bring Noriko home.</text>
<rect class="g" x="633" y="1103" width="111" height="27"/><text x="688.5" y="1113.7">The Sakura bug<tspan x="688.5" dy="14">of clinginess.</tspan></text>
<rect class="g" x="777" y="1101" width="112" height="28"/><text x="833" y="1112.2">Emiya Choujou<tspan x="833" dy="14">(III)</tspan></text>
<rect class="g" x="919" y="1104" width="124" height="27"/><text x="981" y="1114.7">Backstory: How<tspan x="981" dy="14">she ended up here</tspan></text>
<rect class="g" x="633" y="1141" width="111" height="15"/><text x="688.5" y="1152.7">Mira + 2</text>
<rect class="g" x="777" y="1141" width="112" height="15"/><text x="833" y="1152.7">Mira - 1</text>
<rect class="g" x="919" y="1141" width="124" height="15"/><text x="981" y="1152.7">Noriko + 1</text>
<rect class="g" x="631" y="1180" width="116" height="26"/><text x="689" y="1190.2">Backstory: How<tspan x="689" dy="14">he ended up here</tspan></text>
<rect class="g" x="833" y="1174" width="146" height="32"/><text x="906" y="1187.2">Going home. Weird<tspan x="906" dy="14">guilty feeling.</tspan></text>
<rect class="g" x="700" y="1222" width="234" height="42"/><text x="817" y="1240.2">5.11 Mira uneasy. Backstory: College<tspan x="817" dy="14">Decisions. Couch accident.</tspan></text>
<rect class="g" x="763" y="1274" width="112" height="22"/><text x="819" y="1289.2">5.12 Snooze</text>
<!-- Ep6 -->
<text x="620" y="1330" style="text-anchor:start">Episode 6</text>
<rect class="p" x="723" y="1322" width="190" height="40"/><text x="818" y="1339.2">6.1 Officers meeting. Rami,<tspan x="818" dy="14">Rino and Jon's argument</tspan></text>
<rect class="p" x="723" y="1372" width="192" height="42"/><text x="819" y="1390.2">6.2 Yukari angry. Meeting<tspan x="819" dy="14">adjourned. San panicking (V)</tspan></text>
<rect class="p" x="741" y="1431" width="156" height="25"/><text x="819" y="1447.7">6.3 Le thesis trap</text>
<use href="#dia" class="p" transform="translate(718,1507) scale(56,28)"/><text x="718" y="1511.2">Call a meeting.</text>
<use href="#dia" class="p" transform="translate(935,1507) scale(56,28)"/><text x="935" y="1504.2">School work<tspan x="935" dy="14">goes first.</tspan></text>
</svg>

<!-- ============ SVG 3 ============ -->
<svg id="s3" class="l" style="top:3400px;height:1600px" viewBox="0 0 1563 1568" preserveAspectRatio="none">
<g class="cn" id="c3"></g>
<rect class="g" x="291" y="68" width="139" height="30"/><text x="360.5" y="79.9">Noriko's suspicions.<tspan x="360.5" dy="14.7">So you do like her?</tspan></text>
<rect class="g" x="300" y="115" width="118" height="35"/><text x="359" y="129.4">2.13 Rant about<tspan x="359" dy="14.7">Makiru. Closures?</tspan></text>
<rect class="g" x="301" y="158" width="111" height="38"/><text x="356.5" y="181.2">2.14 Snooze</text>
<text class="ep" x="150" y="236">Episode 3</text>
<rect class="p" x="245" y="229" width="223" height="39"/><text x="356.5" y="245.4">3.1 Epic breakfast.<tspan x="356.5" dy="14.7">Thesis. Thesis.</tspan></text>
<rect class="p" x="245" y="277" width="223" height="39"/><text x="356.5" y="293.4">3.2 Safest way to school,<tspan x="356.5" dy="14.7">separately.</tspan></text>
<rect class="p" x="246" y="322" width="223" height="40"/><text x="357.5" y="338.9">3.3 Adviser's wrath. Additive<tspan x="357.5" dy="14.7">gaussian noise.</tspan></text>
<rect class="p" x="247" y="368" width="222" height="41"/><text x="358" y="385.4">3.4 Kitty, kitty. Hana Kyamano<tspan x="358" dy="14.7">and Renzo Esec's task.</tspan></text>
<rect class="p" x="244" y="417" width="223" height="40"/><text x="355.5" y="433.9">3.5 Apprentice meeting (II)<tspan x="355.5" dy="14.7">Minato late.</tspan></text>
<text x="425" y="477" style="font-size:11px">DPTCrea != 1</text>
<rect class="g" x="163" y="503" width="142" height="54"/><text x="234" y="519.5">3.6 Introduction to Log<tspan x="234" dy="14.7">and Pub. Rino Utada</tspan><tspan x="234" dy="14.7">and Jon Matsumoto.</tspan></text>
<rect class="g" x="408" y="506" width="142" height="57"/><text x="479" y="524">3.6 Introduction to<tspan x="479" dy="14.7">Crea, DPT, Log and</tspan><tspan x="479" dy="14.7">Pub. Rino and Jon.</tspan></text>
<rect class="g" x="285" y="580" width="123" height="48"/><text x="346.5" y="593.5">3.7 Introduction to<tspan x="346.5" dy="14.7">Mon. Hiding from</tspan><tspan x="346.5" dy="14.7">Esec duties.</tspan></text>
<rect class="g" x="287" y="640" width="122" height="48"/><text x="348" y="653.5">3.8 Yukari worried.<tspan x="348" dy="14.7">Hiding from thesis</tspan><tspan x="348" dy="14.7">duties.</tspan></text>
<use href="#dia" class="g" transform="translate(245,737) scale(56,28)"/><text x="245" y="734">She's right<tspan x="245" dy="14.7">over there.</tspan></text>
<use href="#dia" class="g" transform="translate(441,737) scale(56,28)"/><text x="441" y="734">I don't know<tspan x="441" dy="14.7">where she went.</tspan></text>
<rect class="g" x="189" y="781" width="112" height="17"/><text x="245" y="793.7">Mira panicking.</text>
<rect class="g" x="382" y="774" width="112" height="17"/><text x="438" y="786.7">Mira's pleading.</text>
<rect class="k" x="382" y="803" width="112" height="31"/><text x="438" y="815.4">Yukari + 1<tspan x="438" dy="14.7">Mira + 1</tspan></text>
<rect class="g" x="381" y="849" width="112" height="43"/><text x="437" y="860">3.9 Rakka and<tspan x="437" dy="14.7">Sakura (II)</tspan><tspan x="437" dy="14.7">Rakka's rants.</tspan></text>
<rect class="g" x="378" y="904" width="114" height="34"/><text x="435" y="917.9">3.10 Today's a<tspan x="435" dy="14.7">fine day for tennis</tspan></text>
<text x="312" y="943" style="font-size:11px">Mira &gt;= 6</text>
<rect class="g" x="163" y="963" width="111" height="73"/><text x="218.5" y="981.7">3.11 Urge to<tspan x="218.5" dy="14.7">return to lounge.</tspan><tspan x="218.5" dy="14.7">Encounter with</tspan><tspan x="218.5" dy="14.7">Lance (I).</tspan></text>
<rect class="g" x="381" y="963" width="111" height="34"/><text x="436.5" y="976.9">3.11 Hyper<tspan x="436.5" dy="14.7">hadouken serve.</tspan></text>
<use href="#dia" class="g" transform="translate(366,1054) scale(67,39)"/><text x="366" y="1050.9">I'm tired. Let's<tspan x="366" dy="14.7">call it a day.</tspan></text>
<use href="#dia" class="g" transform="translate(512,1054) scale(67,39)"/><text x="512" y="1043.5">No way!<tspan x="512" dy="14.7">Let's play another</tspan><tspan x="512" dy="14.7">game.</tspan></text>
<rect class="k" x="408" y="1114" width="112" height="17"/><text x="464" y="1126.7">Noriko + 1</text>
<rect class="g" x="155" y="1091" width="134" height="47"/><text x="222" y="1111.4">3.12 Reminiscing.<tspan x="222" dy="14.7">Minato, the applicant.</tspan></text>
<use href="#dia" class="g" transform="translate(396,1192) scale(56,35)"/><text x="396" y="1181.5">Fine, you<tspan x="396" dy="14.7">win.Let's call</tspan><tspan x="396" dy="14.7">it a day.</tspan></text>
<use href="#dia" class="g" transform="translate(521,1192) scale(56,35)"/><text x="521" y="1188.9">I'm not giving<tspan x="521" dy="14.7">up that easily.</tspan></text>
<rect class="k" x="410" y="1244" width="112" height="17"/><text x="466" y="1256.7">Noriko + 1</text>
<use href="#dia" class="g" transform="translate(385,1316) scale(56,35)"/><text x="385" y="1305.5">I just<tspan x="385" dy="14.7">can't beat you.</tspan><tspan x="385" dy="14.7">Can I?</tspan></text>
<use href="#dia" class="g" transform="translate(521,1316) scale(56,35)"/><text x="521" y="1312.9">One. Last.<tspan x="521" dy="14.7">Game.</tspan></text>
<rect class="g" x="180" y="1307" width="141" height="73"/><text x="250.5" y="1325.7">3.12 Leaving on a<tspan x="250.5" dy="14.7">good note.</tspan><tspan x="250.5" dy="14.7">Reminiscing. Minato,</tspan><tspan x="250.5" dy="14.7">the applicant.</tspan></text>
<rect class="k" x="328" y="1357" width="112" height="17"/><text x="384" y="1369.7">Noriko + 2</text>
<rect class="k" x="465" y="1357" width="111" height="17"/><text x="520.5" y="1369.7">Noriko - 2</text>
<rect class="g" x="332" y="1384" width="110" height="75"/><text x="387" y="1403.7">3.12 Leaving on<tspan x="387" dy="14.7">(almost) a good</tspan><tspan x="387" dy="14.7">note. Encounter</tspan><tspan x="387" dy="14.7">with Lance (II).</tspan></text>
<rect class="g" x="466" y="1384" width="111" height="73"/><text x="521.5" y="1410">3.12 Lance<tspan x="521.5" dy="14.7">suspicious.</tspan><tspan x="521.5" dy="14.7">Return to lounge.</tspan></text>
<rect class="g" x="199" y="1455" width="111" height="43"/><text x="254.5" y="1466">3.13 The sulking<tspan x="254.5" dy="14.7">Esec. College-</tspan><tspan x="254.5" dy="14.7">end crisis.</tspan></text>
<circle class="y" cx="254" cy="1532" r="20"/><text x="254" y="1530" style="font-size:11px">EP03<tspan x="254" dy="13">con'td</tspan></text>

<!-- Ep6 -->
<rect class="p" x="654" y="77" width="134" height="48"/><text x="721" y="90.5">6.4 Where's the<tspan x="721" dy="14.7">progress report?</tspan><tspan x="721" dy="14.7">Adviser furious.</tspan></text>
<rect class="p" x="868" y="79" width="134" height="48"/><text x="935" y="92.5">6.4 Where's the<tspan x="935" dy="14.7">organization update?</tspan><tspan x="935" dy="14.7">Admin furious.</tspan></text>
<rect class="g" x="750" y="160" width="167" height="44"/><text x="833.5" y="171.5">6.5 Mira-senpai out early.<tspan x="833.5" dy="14.7">Morning prayers and</tspan><tspan x="833.5" dy="14.7">prepared breakfast.</tspan></text>
<rect class="g" x="749" y="219" width="167" height="28"/><text x="832.5" y="229.9">6.6 Frere/soeur bonding.<tspan x="832.5" dy="14.7">Emiya Choujou (IV)</tspan></text>
<text x="703" y="235" style="font-size:11px">Noriko &gt;= 12</text>
<use href="#dia" class="g" transform="translate(726,320) scale(56,36)"/><text x="726" y="316.9">It's a date, just<tspan x="726" dy="14.7">the two of us.</tspan></text>
<use href="#dia" class="g" transform="translate(943,318) scale(56,36)"/><text x="943" y="314.9">Let's go with<tspan x="943" dy="14.7">San and Emiya</tspan></text>
<rect class="g" x="643" y="380" width="167" height="29"/><text x="726.5" y="391.4">This is going to be fun,<tspan x="726.5" dy="14.7">senpai.</tspan></text>
<rect class="g" x="859" y="380" width="168" height="29"/><text x="943" y="391.4">This is going to be fun,<tspan x="943" dy="14.7">man.</tspan></text>
<use href="#dia" class="g" transform="translate(728,470) scale(56,28)"/><text x="728" y="474.2">Let's eat lunch.</text>
<use href="#dia" class="g" transform="translate(833,497) scale(56,28)"/><text x="833" y="493.9">Let's watch a<tspan x="833" dy="14.7">movie.</tspan></text>
<use href="#dia" class="g" transform="translate(945,467) scale(56,28)"/><text x="945" y="463.9">Let's play in<tspan x="945" dy="14.7">the arcade.</tspan></text>
<rect class="g" x="637" y="546" width="108" height="37"/><text x="691" y="561.4">6.7 Coincidence.<tspan x="691" dy="14.7">Seafood buffet.</tspan></text>
<rect class="g" x="778" y="543" width="111" height="44"/><text x="833.5" y="554.5">6.7 Coincidence.<tspan x="833.5" dy="14.7">Rakka and</tspan><tspan x="833.5" dy="14.7">Sakura (V)</tspan></text>
<rect class="g" x="912" y="546" width="111" height="37"/><text x="967.5" y="561.4">6.7 Coincidence.<tspan x="967.5" dy="14.7">Shooting games.</tspan></text>
<use href="#dia" class="g" transform="translate(694,674) scale(56,28)"/><text x="694" y="678.2">Let's eat lunch.</text>
<use href="#dia" class="g" transform="translate(840,679) scale(56,28)"/><text x="840" y="675.9">Let's watch a<tspan x="840" dy="14.7">movie.</tspan></text>
<use href="#dia" class="g" transform="translate(985,672) scale(56,28)"/><text x="985" y="668.9">Let's play in<tspan x="985" dy="14.7">the arcade.</tspan></text>
<rect class="g" x="629" y="719" width="133" height="44"/><text x="695.5" y="730.5">6.8 Seafood buffet.<tspan x="695.5" dy="14.7">Something on your</tspan><tspan x="695.5" dy="14.7">cheek. The moves</tspan></text>
<rect class="g" x="775" y="719" width="133" height="44"/><text x="841.5" y="730.5">6.8 Romacom WTF.<tspan x="841.5" dy="14.7">It's chilly in here</tspan><tspan x="841.5" dy="14.7">senpai. The moves.</tspan></text>
<rect class="g" x="915" y="719" width="134" height="44"/><text x="982" y="730.5">6.8 Shooting games.<tspan x="982" dy="14.7">Let me teach you</tspan><tspan x="982" dy="14.7">how. The moves.</tspan></text>
<rect class="k" x="638" y="771" width="112" height="29"/><text x="694" y="782.4">Noriko route + 1<tspan x="694" dy="14.7">Noriko + 1</tspan></text>
<rect class="k" x="782" y="773" width="112" height="30"/><text x="838" y="784.9">Noriko route + 1<tspan x="838" dy="14.7">Noriko + 2</tspan></text>
<rect class="k" x="926" y="775" width="112" height="19"/><text x="982" y="788.7">Noriko + 1</text>
<rect class="g" x="772" y="823" width="134" height="44"/><text x="839" y="841.9">6.9 Ice cream<tspan x="839" dy="14.7">crepes. Le picture.</tspan></text>
<rect class="g" x="925" y="820" width="123" height="35"/><text x="986.5" y="834.4">6.7 Seafood buffet.<tspan x="986.5" dy="14.7">Food debate.</tspan></text>
<rect class="g" x="925" y="862" width="123" height="46"/><text x="986.5" y="874.5">6.8 The Ninja<tspan x="986.5" dy="14.7">Pirate Zombie</tspan><tspan x="986.5" dy="14.7">Robot Movie.</tspan></text>
<rect class="g" x="925" y="916" width="122" height="39"/><text x="986" y="932.4">6.9 Not made to<tspan x="986" dy="14.7">dance. Le picture.</tspan></text>
<use href="#dia" class="g" transform="translate(699,958) scale(56,28)"/><text x="699" y="962.2">Let's stay here.</text>
<use href="#dia" class="g" transform="translate(840,958) scale(56,28)"/><text x="840" y="962.2">Let's go home.</text>
<rect class="g" x="632" y="999" width="134" height="43"/><text x="699" y="1017.4">6.10 Just a little<tspan x="699" dy="14.7">more time together.</tspan></text>
<rect class="g" x="859" y="983" width="168" height="49"/><text x="943" y="997">6.10 Back home. Overhear<tspan x="943" dy="14.7">Mira's conversation.</tspan><tspan x="943" dy="14.7">Mira's problem (III)</tspan></text>
<rect class="k" x="641" y="1050" width="111" height="35"/><text x="696.5" y="1064.4">Noriko route + 1<tspan x="696.5" dy="14.7">Noriko + 3</tspan></text>
<use href="#dia" class="g" transform="translate(864,1078) scale(56,28)"/><text x="864" y="1074.9">Ask if<tspan x="864" dy="14.7">dinner's ready.</tspan></text>
<use href="#dia" class="g" transform="translate(1005,1080) scale(56,28)"/><text x="1005" y="1076.9">Check up<tspan x="1005" dy="14.7">on her.</tspan></text>
<rect class="g" x="629" y="1105" width="132" height="36"/><text x="695" y="1119.9">6.11 Awesome date.<tspan x="695" dy="14.7">Peck on the cheek.</tspan></text>
<rect class="g" x="628" y="1152" width="133" height="46"/><text x="694.5" y="1164.5">6.12 On the way<tspan x="694.5" dy="14.7">home. Must not think</tspan><tspan x="694.5" dy="14.7">of such thoughts.</tspan></text>
<rect class="g" x="801" y="1135" width="134" height="36"/><text x="868" y="1149.9">6.11 It's in the fridge.<tspan x="868" dy="14.7">Mira's breakdown.</tspan></text>
<rect class="g" x="941" y="1135" width="122" height="36"/><text x="1002" y="1149.9">6.11 I'm okay.<tspan x="1002" dy="14.7">Mira's breakdown.</tspan></text>
<rect class="k" x="946" y="1180" width="112" height="17"/><text x="1002" y="1192.7">Mira + 1</text>
<text x="663" y="1222" style="font-size:11px">dontknow = 1</text>
<use href="#dia" class="g" transform="translate(749,1268) scale(56,31)"/><text x="749" y="1264.9">Pretend I'm<tspan x="749" dy="14.7">not here.</tspan></text>
<use href="#dia" class="g" transform="translate(872,1266) scale(56,31)"/><text x="872" y="1270.2">Get tissues.</text>
<use href="#dia" class="g" transform="translate(998,1266) scale(56,31)"/><text x="998" y="1270.2">Hug her.</text>
<rect class="g" x="692" y="1308" width="112" height="34"/><text x="748" y="1321.9">Must not meddle.<tspan x="748" dy="14.7">Design problem.</tspan></text>
<rect class="g" x="816" y="1310" width="112" height="16"/><text x="872" y="1322">Mira rants.</text>
<rect class="g" x="956" y="1311" width="100" height="18"/><text x="1006" y="1324">Lets it all out.</text>
<rect class="k" x="818" y="1336" width="112" height="32"/><text x="874" y="1348.9">Mira route + 1<tspan x="874" dy="14.7">Mira + 1</tspan></text>
<rect class="k" x="942" y="1336" width="112" height="32"/><text x="998" y="1348.9">Mira route + 1<tspan x="998" dy="14.7">Mira + 3</tspan></text>
<text x="707" y="1364" style="font-size:11px">dontcare = 1</text>
<rect class="g" x="692" y="1377" width="123" height="32"/><text x="753.5" y="1389.9">6.12 Too distracted<tspan x="753.5" dy="14.7">to work. I wonder.</tspan></text>
<rect class="g" x="876" y="1398" width="134" height="36"/><text x="943" y="1412.9">6.12 The Esec and<tspan x="943" dy="14.7">the Mira I know.</tspan></text>
<rect class="g" x="788" y="1456" width="139" height="38"/><text x="857.5" y="1471.9">6.13 Mira fast asleep.<tspan x="857.5" dy="14.7">Check email.</tspan></text>
<rect class="g" x="797" y="1505" width="123" height="35"/><text x="858.5" y="1526.7">6.14 Snooze.</text>
<circle class="y" cx="1028" cy="1526" r="18"/><text x="1028" y="1530">EP07</text>
</svg>

<script>
function S(a){var x1=a[0],y1=a[1],x2=a[2],y2=a[3];if(x1==x2||y1==y2)return "M"+x1+","+y1+" L"+x2+","+y2;var m=(y1+y2)/2;return "M"+x1+","+y1+" C"+x1+","+m+" "+x2+","+m+" "+x2+","+y2;}
function draw(id,arr,dots,custom){var g=document.getElementById(id),h="";arr.forEach(function(a){h+='<path d="'+S(a)+'"/>';});(dots||[]).forEach(function(d){h+='<path class="d" d="'+(typeof d=="string"?d:S(d))+'"/>';});(custom||[]).forEach(function(d){h+='<path d="'+d+'"/>';});g.innerHTML=h;}
draw("c1",[
[339,75,339,90],[320,132,240,148],[375,132,413,150],[240,192,240,214],[413,195,413,218],[240,256,325,280],[412,260,325,280],[325,312,325,321],
[326,351,242,391],[326,351,406,385],[242,449,242,458],[245,474,300,497],[406,447,375,497],
[343,535,196,555],[343,535,346,556],[343,535,506,555],[196,621,196,627],[346,622,346,658],[506,625,506,656],
[194,692,280,778],[348,692,280,778],[500,690,500,779],[278,812,202,827],[278,812,352,827],[202,887,202,903],
[205,988,350,1016],[352,887,352,1016],[499,808,370,1016],
[352,1046,201,1082],[352,1046,349,1083],[352,1046,486,1083],[201,1138,205,1180],[349,1139,447,1235],[486,1139,522,1193],
[205,1206,182,1235],[205,1206,332,1241],[182,1289,184,1314],[184,1329,184,1342],[332,1295,334,1316],[334,1335,430,1381],
[184,1380,392,1393],[447,1272,447,1381],[522,1220,480,1381],[448,1405,448,1453],
[647,36,773,36],[829,50,676,82],[829,50,832,82],[829,50,985,82],[676,162,672,181],[832,162,831,181],[985,162,988,179],[672,211,672,222],
[671,237,835,263],[831,212,835,263],[988,209,835,263],[835,281,680,302],[835,281,836,302],[835,281,986,300],
[680,382,681,396],[836,382,834,396],[986,380,985,396],[681,413,836,439],[834,413,836,439],[985,413,836,439],
[838,458,838,474],[838,505,836,521],[836,540,836,552],[836,577,839,586],
[838,670,837,680],[837,708,836,720],[836,751,837,765],[837,795,693,814],[837,795,832,814],[837,795,971,816],
[693,866,694,876],[832,866,832,876],[971,868,974,876],[694,890,694,900],[832,890,832,898],[972,890,972,898],
[694,916,694,954],[832,932,909,953],[972,932,909,953],[853,962,761,962],[694,994,696,1026],
[696,1050,787,1079],[903,1053,787,1079],[787,1108,786,1122],[786,1152,666,1174],[786,1152,790,1172],[786,1152,916,1174],
[666,1230,666,1234],[790,1228,791,1234],[916,1230,918,1234],[665,1287,792,1306],[791,1287,792,1306],[917,1287,792,1306],
[1018,1235,853,1325],[792,1345,791,1357],[791,1371,790,1382],[790,1406,791,1449],
[1226,41,1265,41],[1320,53,1206,92],[1320,53,1424,95],[1206,142,1207,151],[1424,145,1424,156],[1207,202,1330,230],[1424,186,1330,230],
[1330,257,1262,289],[1262,318,1333,338],[1391,318,1333,338],[1333,369,1193,397],[1333,369,1330,398],[1333,369,1462,397],
[1193,453,1194,475],[1330,454,1329,475],[1462,457,1461,475],[1196,538,1329,571],[1330,538,1329,571],[1461,503,1329,571],
[1329,601,1329,617],[1329,647,1330,659],[1330,690,1330,700],[1330,731,1330,742],[1330,773,1332,785],[1332,815,1332,827],[1332,858,1329,873],
[1329,903,1167,928],[1329,903,1330,930],[1329,903,1474,929],[1167,978,1169,990],[1330,980,1327,990],[1474,979,1473,990],
[1169,1020,1329,1041],[1327,1020,1329,1041],[1473,1020,1329,1041]
],["M720,994 C740,1020 880,1010 903,1029","M842,1137 C950,1130 1020,1170 1018,1210","M846,1364 C940,1360 950,1380 945,1420 C940,1450 900,1465 880,1465","M1330,257 C1335,280 1390,280 1391,289"]);
draw("c2",[
[448,0,361,42],[361,77,361,100],[335,143,227,170],[361,143,358,169],[388,143,484,169],[227,236,225,244],[358,235,357,244],[484,235,486,244],
[357,276,357,292],[483,276,483,292],[225,276,330,333],[360,308,360,333],[483,324,400,333],[360,366,363,377],
[363,435,226,469],[363,435,493,469],[226,535,228,548],[493,535,495,551],[228,588,330,603],[495,593,390,603],
[360,637,236,653],[360,637,468,653],[236,743,235,758],[468,743,470,755],[291,775,415,775],[470,795,470,804],[470,842,469,847],
[469,905,228,935],[469,905,372,936],[469,905,499,936],[228,991,229,1001],[372,992,369,1003],[499,992,499,1003],
[229,1037,370,1086],[369,1061,370,1086],[499,1039,370,1086],[370,1121,372,1131],[372,1167,225,1187],[372,1167,491,1188],
[225,1249,223,1256],[491,1250,494,1256],[223,1272,223,1282],[223,1322,223,1336],
[200,1371,220,1407],[250,1371,361,1407],[280,1371,500,1407],[220,1497,221,1511],
[790,0,790,8],[790,60,790,69],[790,110,831,130],[831,155,686,170],[831,155,835,170],[831,155,985,170],
[686,244,686,265],[835,244,834,266],[985,244,986,264],[686,292,833,316],[834,296,833,316],[986,294,833,316],
[686,408,687,424],[832,410,835,424],[984,408,984,424],[687,467,689,481],[984,469,984,485],[745,495,783,510],[928,498,893,510],[835,469,838,496],
[838,524,684,544],[838,524,838,544],[838,524,976,547],[684,600,682,611],[838,600,836,611],[976,603,978,612],[683,627,683,636],[978,629,977,636],
[683,654,805,716],[838,651,838,716],[977,653,900,716],[838,750,706,770],[838,750,838,772],[838,750,970,772],
[706,826,706,867],[838,828,760,867],[970,828,973,887],[725,912,723,930],[973,922,974,930],[723,946,810,971],[974,946,870,971],
[836,1016,688,1029],[836,1016,833,1030],[836,1016,980,1029],[688,1085,688,1103],[833,1086,833,1101],[980,1085,981,1104],
[688,1130,688,1141],[833,1129,833,1141],[981,1131,981,1141],[688,1156,689,1180],[833,1156,880,1174],[981,1156,930,1174],
[689,1206,770,1222],[906,1206,866,1222],[817,1264,819,1274],[819,1296,818,1322],[818,1362,819,1372],[819,1414,819,1431],
[819,1456,718,1479],[819,1456,935,1479],[718,1535,718,1568],[935,1535,935,1568]
],["M300,407 C200,410 140,420 140,480 C140,540 150,570 172,570",[812,340,686,380],[835,340,832,382],[855,340,984,380],[970,830,781,889],"M921,730 C1000,735 1055,760 1055,820 C1055,880 1040,900 1029,905"],
["M494,1292 C494,1303 470,1303 279,1303"]);
draw("c3",[
[220,52,320,68],[361,0,361,68],[360,98,359,115],[359,150,357,158],[357,196,357,229],
[357,268,357,277],[357,316,357,322],[358,362,358,368],[358,409,356,417],[330,457,234,503],[234,557,320,580],[479,563,375,580],
[346,628,348,640],[330,688,245,709],[370,688,441,709],[245,765,245,781],[441,765,438,774],[438,791,438,803],[438,834,437,849],[437,892,435,904],
[218,1036,218,1091],[436,997,366,1015],[436,997,512,1015],[512,1093,464,1114],[366,1093,250,1307],[464,1131,396,1157],[464,1131,521,1157],
[396,1227,260,1307],[521,1227,466,1244],[466,1261,385,1281],[466,1261,521,1281],[385,1351,384,1357],[521,1351,520,1357],
[384,1374,387,1384],[520,1374,521,1384],[222,1138,215,1455],[250,1380,254,1455],[387,1459,310,1476],[521,1457,310,1478],[254,1498,254,1512],
[718,65,721,77],[935,65,935,79],[721,125,833,160],[935,127,833,160],[833,204,832,219],[832,247,726,284],[832,247,943,282],
[726,356,726,380],[943,354,943,380],[726,409,728,442],[726,409,833,469],[726,409,945,439],[943,409,728,442],[943,409,833,469],[943,409,945,439],
[728,498,691,546],[833,525,833,543],[945,495,967,546],
[691,583,694,646],[691,583,840,651],[691,583,985,644],[833,587,694,646],[833,587,840,651],[833,587,985,644],[967,583,694,646],[967,583,840,651],[967,583,985,644],
[694,702,695,719],[840,707,841,719],[985,700,982,719],[694,800,839,823],[838,803,839,823],[982,794,839,823],
[839,867,699,930],[839,867,840,930],[925,935,840,930],[986,855,986,862],[986,908,986,916],
[699,986,699,999],[840,986,943,983],[699,1042,696,1050],[696,1085,695,1105],[695,1141,694,1152],[943,1032,864,1050],[943,1032,1005,1052],
[864,1106,868,1135],[1005,1108,1002,1135],[1002,1171,1002,1180],
[868,1171,749,1237],[868,1171,872,1235],[868,1171,998,1235],[1002,1197,749,1237],[1002,1197,872,1235],[1002,1197,998,1235],
[749,1299,748,1308],[872,1297,872,1310],[998,1297,1006,1311],[748,1342,753,1377],[872,1326,874,1336],[1006,1329,998,1336],
[874,1368,943,1398],[998,1368,943,1398],[753,1409,830,1456],[943,1434,880,1456],[857,1494,858,1505],[920,1525,1010,1525]
],["M356,457 C380,480 470,475 479,506",[435,938,218,963],"M749,232 C660,235 620,260 622,330 C622,390 640,398 643,398"],
["M500,0 C500,100 480,133 418,133","M245,798 C245,860 300,870 381,870","M980,409 C980,450 1050,430 1050,500 L1050,820 C1050,830 1048,835 1048,837","M628,1175 C600,1220 600,1470 788,1475"]);
</script>
</body></html>
